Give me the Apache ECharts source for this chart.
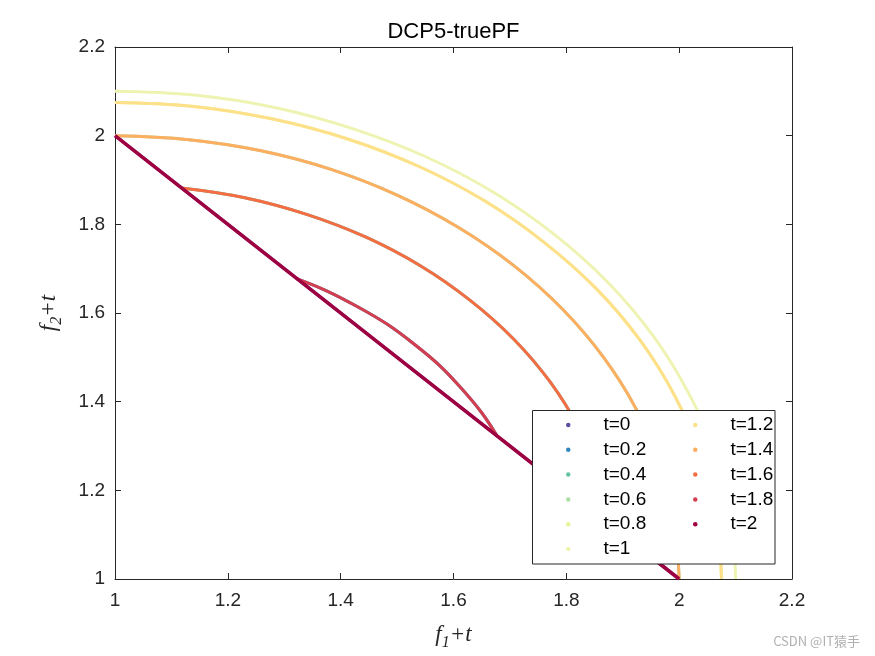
<!DOCTYPE html>
<html><head><meta charset="utf-8">
<script src="https://cdn.jsdelivr.net/npm/echarts@6/dist/echarts.min.js"></script>
<style>html,body{margin:0;padding:0;background:#fff}#c{width:875px;height:656px}</style>
</head><body><div id="c"></div>
<script>
// ---- data ----
const tickValues = [1, 1.2, 1.4, 1.6, 1.8, 2, 2.2];
const seriesNames = ['t=0','t=0.2','t=0.4','t=0.6','t=0.8','t=1','t=1.2','t=1.4','t=1.6','t=1.8','t=2'];
const seriesColors = ['#5e4fa2','#3288bd','#66c2a5','#abdda4','#e6f598','#eff3b2','#fee08b','#fdae61','#f46d43','#d53e4f','#9e0142'];

// t=2 : straight front
const curve_t20 = [[1,2],[1.5,1.5],[2,1]];
// t=1.8
const curve_t18 = [[1.323,1.677],[1.375,1.650],[1.430,1.614],[1.482,1.575],[1.530,1.530],[1.575,1.482],[1.614,1.430],[1.650,1.375],[1.677,1.323]];
// t=1.6
const curve_t16 = [[1.118,1.882],[1.230,1.860],[1.341,1.822],[1.445,1.771],[1.542,1.706],[1.629,1.629],[1.706,1.542],[1.771,1.445],[1.822,1.341],[1.860,1.230],[1.882,1.118]];
// t=1.4
const curve_t14 = [[1,2],[1.131,1.991],[1.259,1.966],[1.383,1.924],[1.5,1.866],[1.609,1.793],[1.707,1.707],[1.793,1.609],[1.866,1.5],[1.924,1.383],[1.966,1.259],[1.991,1.131],[2,1]];
// t=1.2
const curve_t12 = [[1,2.075],[1.140,2.066],[1.278,2.038],[1.411,1.993],[1.538,1.931],[1.655,1.853],[1.760,1.760],[1.853,1.655],[1.931,1.538],[1.993,1.411],[2.038,1.278],[2.066,1.140],[2.075,1]];
// t=1
const curve_t10 = [[1,2.1],[1.144,2.091],[1.285,2.063],[1.421,2.016],[1.55,1.953],[1.670,1.873],[1.778,1.778],[1.873,1.670],[1.953,1.55],[2.016,1.421],[2.063,1.285],[2.091,1.144],[2.1,1]];
// t=0..0.8 lie underneath their mirrored partners (hidden in the picture)
const curve_t08 = curve_t12, curve_t06 = curve_t14, curve_t04 = curve_t16, curve_t02 = curve_t18, curve_t00 = curve_t20;
const seriesData = [curve_t00, curve_t02, curve_t04, curve_t06, curve_t08, curve_t10, curve_t12, curve_t14, curve_t16, curve_t18, curve_t20];

// ---- chart ----
const SANS = "'Liberation Sans', Arial, Helvetica, sans-serif";
const SERIF = "'Liberation Serif', 'Times New Roman', serif";
const AX = '#262626';
const fmt = v => String(Math.round(v * 10) / 10);
const nameRich = {
  i: {fontFamily: SERIF, fontStyle: 'italic', fontSize: 23, color: AX},
  s: {fontFamily: SERIF, fontStyle: 'italic', fontSize: 16, color: AX, padding: [16, 0, 0, 0]}
};
const axisCommon = {
  type: 'value', min: tickValues[0], max: tickValues[tickValues.length - 1], interval: 0.2,
  axisLine: {show: true, lineStyle: {color: AX, width: 1}},
  axisTick: {show: true, inside: true, length: 6, lineStyle: {color: AX, width: 1}},
  splitLine: {show: false}
};
const legendText = {fontFamily: SANS, fontSize: 19, lineHeight: 19, color: '#000', padding: [0, 0, 0, 28]};
const chart = echarts.init(document.getElementById('c'), null, {renderer: 'canvas'});
chart.setOption({
  animation: false,
  backgroundColor: '#fff',
  title: {text: 'DCP5-truePF', left: 453.5, top: 21, padding: 0, textAlign: 'center',
    textStyle: {fontFamily: SANS, fontSize: 22, fontWeight: 'normal', color: '#000'}},
  grid: {left: 115, right: 83, top: 47, bottom: 77, outerBoundsMode: 'none', containLabel: false},
  xAxis: [
    Object.assign({}, axisCommon, {position: 'bottom',
      axisLabel: {margin: 12, fontSize: 19, fontFamily: SANS, color: AX, formatter: fmt},
      name: '{i|f}{s|1}{i|+t}', nameLocation: 'middle', nameGap: 40,
      nameTextStyle: {rich: nameRich}}),
    Object.assign({}, axisCommon, {position: 'top', axisLabel: {show: false}})
  ],
  yAxis: [
    Object.assign({}, axisCommon, {position: 'left',
      axisLabel: {margin: 10, fontSize: 19, fontFamily: SANS, color: AX, formatter: fmt},
      name: '{i|f}{s|2}{i|+t}', nameLocation: 'middle', nameGap: 50, nameRotate: 90,
      nameTextStyle: {rich: nameRich}}),
    Object.assign({}, axisCommon, {position: 'right', axisLabel: {show: false}})
  ],
  legend: [
    {data: seriesNames.slice(0, 6), orient: 'vertical', left: 566, top: 415.5, padding: 0,
      itemWidth: 4.5, itemHeight: 4.5, itemGap: 5.8, icon: 'circle', z: 10, textStyle: legendText},
    {data: seriesNames.slice(6), orient: 'vertical', left: 693, top: 415.5, padding: 0,
      itemWidth: 4.5, itemHeight: 4.5, itemGap: 5.8, icon: 'circle', z: 10, textStyle: legendText}
  ],
  graphic: [
    {type: 'rect', z: 5, shape: {x: 532.5, y: 410.5, width: 242.5, height: 153.5},
      style: {fill: '#fff', stroke: AX, lineWidth: 1}},
    {type: 'text', z: 5, x: 860, y: 641,
      style: {text: 'CSDN @IT猿手', fill: '#b0b0b0', font: "13px 'Noto Sans CJK SC', 'Noto Sans', sans-serif",
        textAlign: 'right', textVerticalAlign: 'middle'}}
  ],
  series: seriesNames.map((n, k) => ({
    name: n, type: 'line', data: seriesData[k], showSymbol: false, symbol: 'circle',
    smooth: k === 10 ? false : 0.4, z: 2,
    color: seriesColors[k],
    itemStyle: {color: seriesColors[k]},
    lineStyle: {color: seriesColors[k], width: k === 10 ? 3.5 : 3},
    emphasis: {disabled: true}, silent: true
  }))
});
</script></body></html>
